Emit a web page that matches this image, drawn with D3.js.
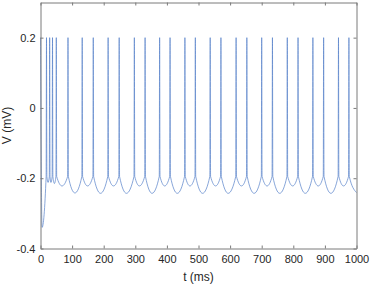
<!DOCTYPE html>
<html lang="en">

<head>
    <meta charset="UTF-8">
    <title>Membrane Potential</title>
    <script src="https://d3js.org/d3.v7.min.js"></script>
    <style>
        body { margin: 0; background: #fff; }
        .axis text { font-family: "Liberation Sans", Arial, sans-serif; font-size: 11px; fill: #262626; }
        .axis-label { font-family: "Liberation Sans", Arial, sans-serif; font-size: 12px; fill: #262626; }
    </style>
</head>

<body>

    <div id="chart"></div>

    <script>
        const width = 371;
        const height = 285;

        // values
        const startT = [0, 5];
        const startV = [0.2, -0.34];
        const spikeTimes = [19, 29, 38, 50, 87, 132, 167, 214, 249, 297, 331, 377, 410, 457,
            490, 537, 571, 619, 653, 700, 734, 781, 815, 862, 896, 943, 976];
        const peakV = 0.2;
        const footV = -0.195;
        const troughT = [24, 33, 44, 68, 109, 149, 190, 231, 272, 313, 353, 393, 433, 473,
            513, 554, 594, 636, 676, 717, 757, 798, 838, 879, 919, 959, 1000];
        const troughV = [-0.212, -0.212, -0.215, -0.222, -0.242, -0.222, -0.243, -0.222, -0.243,
            -0.222, -0.243, -0.222, -0.243, -0.222, -0.243, -0.222, -0.243, -0.222, -0.243,
            -0.222, -0.243, -0.222, -0.243, -0.222, -0.243, -0.222, -0.241];

        const xTicks = [0, 100, 200, 300, 400, 500, 600, 700, 800, 900, 1000];
        const yTicks = [-0.4, -0.2, 0, 0.2];

        // spike half width in ms
        const halfWidth = 1.2;

        const margin = { top: 2.5, right: 14.5, bottom: 36.5, left: 40.5 };

        const x = d3.scaleLinear()
            .domain([0, 1000])
            .range([margin.left, width - margin.right]);

        const y = d3.scaleLinear()
            .domain([-0.4, 0.3])
            .range([height - margin.bottom, margin.top]);

        // build the trace vertices: start, then spike peak / foot / trough for each spike
        const trace = startT.map((t, i) => ({ t: t, v: startV[i] }));
        spikeTimes.forEach((t, i) => {
            trace.push({ t: t - halfWidth, v: footV });
            trace.push({ t: t, v: peakV });
            trace.push({ t: t + halfWidth, v: footV });
            trace.push({ t: troughT[i], v: troughV[i] });
        });

        const svg = d3.select("#chart")
            .append("svg")
            .attr("width", width)
            .attr("height", height)
            .style("display", "block");

        const line = d3.line()
            .x(d => x(d.t))
            .y(d => y(d.v))
            .curve(d3.curveMonotoneX);

        svg.append("path")
            .datum(trace)
            .attr("fill", "none")
            .attr("stroke", "#5580c8")
            .attr("stroke-width", 0.7)
            .attr("d", line);

        const axisColor = "#7a7a7a";

        // bottom + top axes, ticks pointing inwards
        svg.append("g")
            .attr("class", "axis")
            .attr("transform", `translate(0, ${height - margin.bottom})`)
            .call(d3.axisBottom(x).tickValues(xTicks).tickSizeInner(-3).tickSizeOuter(0).tickPadding(7)
                .tickFormat(d3.format("d")));

        svg.append("g")
            .attr("class", "axis")
            .attr("transform", `translate(0, ${margin.top})`)
            .call(d3.axisTop(x).tickValues(xTicks).tickSizeInner(-3).tickSizeOuter(0).tickFormat(""));

        svg.append("g")
            .attr("class", "axis")
            .attr("transform", `translate(${margin.left}, 0)`)
            .call(d3.axisLeft(y).tickValues(yTicks).tickSizeInner(-3).tickSizeOuter(0).tickPadding(5)
                .tickFormat(d => d === 0 ? "0" : d3.format(".1f")(d).replace("−", "-")));

        svg.append("g")
            .attr("class", "axis")
            .attr("transform", `translate(${width - margin.right}, 0)`)
            .call(d3.axisRight(y).tickValues(yTicks).tickSizeInner(-3).tickSizeOuter(0).tickFormat(""));

        svg.selectAll(".axis path, .axis line").attr("stroke", axisColor);

        // axis labels
        svg.append("text")
            .attr("class", "axis-label")
            .attr("x", (margin.left + width - margin.right) / 2)
            .attr("y", 281)
            .attr("text-anchor", "middle")
            .text("t (ms)");

        svg.append("text")
            .attr("class", "axis-label")
            .attr("transform", `translate(11, ${(margin.top + height - margin.bottom) / 2}) rotate(-90)`)
            .attr("text-anchor", "middle")
            .text("V (mV)");
    </script>
</body>

</html>
